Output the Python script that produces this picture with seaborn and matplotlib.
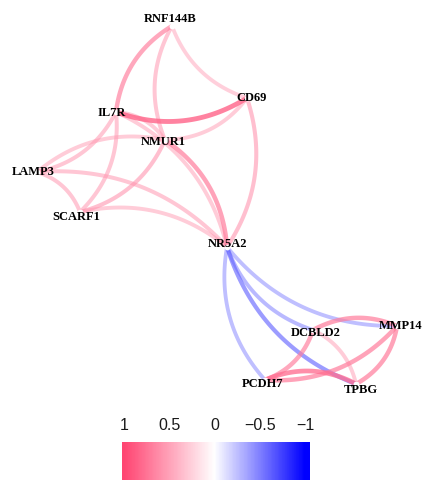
import numpy as np
import pandas as pd
import matplotlib
matplotlib.use("Agg")
import matplotlib.pyplot as plt
import seaborn as sns
from matplotlib.colors import LinearSegmentedColormap, Normalize

# ---------------- data ----------------
nodes = ["RNF144B", "CD69", "IL7R", "NMUR1", "LAMP3", "SCARF1",
         "NR5A2", "DCBLD2", "MMP14", "PCDH7", "TPBG"]
# layout coordinates of the nodes (multidimensional-scaling style layout)
node_x = [172, 247, 116, 165, 37, 80, 227, 313, 397, 265, 356]
node_y = [26, 98, 112, 140, 172, 212, 247, 330, 326, 380, 384]

edge_from = ["RNF144B", "RNF144B", "RNF144B", "IL7R", "NMUR1", "NR5A2", "NR5A2",
             "NR5A2", "LAMP3", "NMUR1", "SCARF1", "NR5A2", "SCARF1", "SCARF1",
             "NR5A2", "NR5A2", "NR5A2", "NR5A2", "NR5A2", "MMP14", "PCDH7",
             "TPBG", "PCDH7", "TPBG", "TPBG", "NMUR1"]
edge_to = ["IL7R", "NMUR1", "CD69", "CD69", "CD69", "IL7R", "NMUR1",
           "CD69", "IL7R", "LAMP3", "LAMP3", "LAMP3", "IL7R", "NMUR1",
           "SCARF1", "MMP14", "DCBLD2", "TPBG", "PCDH7", "DCBLD2", "DCBLD2",
           "DCBLD2", "MMP14", "MMP14", "PCDH7", "IL7R"]
edge_r = [0.68, 0.55, 0.50, 0.82, 0.52, 0.52, 0.70,
          0.58, 0.55, 0.52, 0.55, 0.55, 0.55, 0.58,
          0.52, -0.50, -0.52, -0.62, -0.50, 0.70, 0.68,
          0.52, 0.70, 0.70, 0.78, 0.52]

tick_values = [1, 0.5, 0, -0.5, -1]
tick_labels = ["1", "0.5", "0", "\u22120.5", "\u22121"]

# label placement (repelled text offsets, in layout units)
label_dx = [-2, 5, -4, -2, -4, -4, 1, 3, 4, -2, 5]
label_dy = [-7, 0, 1, 2, 0, 5, -3, 3, 0, 4, 6]

# ---------------- style ----------------
sns.set_theme(style="white")
plt.rcParams['font.family'] = ['Liberation Sans', 'DejaVu Sans']

fig = plt.figure(figsize=(4.24, 4.8), dpi=100)
ax = fig.add_axes([0, 0, 1, 1])
ax.set_xlim(0, 424)
ax.set_ylim(480, 0)
ax.axis('off')

cmap = LinearSegmentedColormap.from_list("corr", ["#0000FF", "#FFFFFF", "#FF4572"])
norm = Normalize(-1, 1)

pos = dict(zip(nodes, zip(node_x, node_y)))
curv = 0.24
t = np.linspace(0, 1, 80)

order = np.argsort(np.abs(edge_r), kind="stable")
for i in order:
    x0, y0 = pos[edge_from[i]]
    x1, y1 = pos[edge_to[i]]
    dx, dy = x1 - x0, y1 - y0
    cx = (x0 + x1) / 2 - curv * dy
    cy = (y0 + y1) / 2 + curv * dx
    bx = (1 - t) ** 2 * x0 + 2 * (1 - t) * t * cx + t ** 2 * x1
    by = (1 - t) ** 2 * y0 + 2 * (1 - t) * t * cy + t ** 2 * y1
    r = edge_r[i]
    df = pd.DataFrame({"x": bx, "y": by})
    sns.lineplot(data=df, x="x", y="y", sort=False, estimator=None,
                 color=cmap(norm(r)), alpha=abs(r),
                 linewidth=1.6 + 2.3 * abs(r), solid_capstyle="butt",
                 ax=ax, legend=False, zorder=2)

sns.scatterplot(x=node_x, y=node_y, color="white", s=18, linewidth=0,
                ax=ax, zorder=3, legend=False)

for name, x, y, ddx, ddy in zip(nodes, node_x, node_y, label_dx, label_dy):
    ax.text(x + ddx, y + ddy, name, ha="center", va="center",
            fontfamily=["Liberation Serif", "DejaVu Serif"], fontweight="bold",
            fontsize=9, color="black", zorder=4)

ax.set_xlim(0, 424)
ax.set_ylim(480, 0)

# ---------------- colour bar ----------------
cax = fig.add_axes([122 / 424, 0, 188 / 424, 38 / 480])
lo, hi = 1.022, -1.055
xs = np.linspace(lo, hi, 401)
vals = (xs[:-1] + xs[1:]) / 2
cax.pcolormesh(xs, [0, 1], vals[None, :], cmap=cmap, norm=norm, shading="flat")
cax.set_xlim(lo, hi)
cax.set_ylim(0, 1)
cax.set_xticks(tick_values)
cax.set_xticklabels(tick_labels)
cax.set_yticks([])
cax.xaxis.set_ticks_position("top")
cax.tick_params(axis="x", length=0, pad=6.5, labelsize=11.5, labelcolor="#1a1a1a")
for s in cax.spines.values():
    s.set_visible(False)

fig.savefig("out.png", dpi=100)
